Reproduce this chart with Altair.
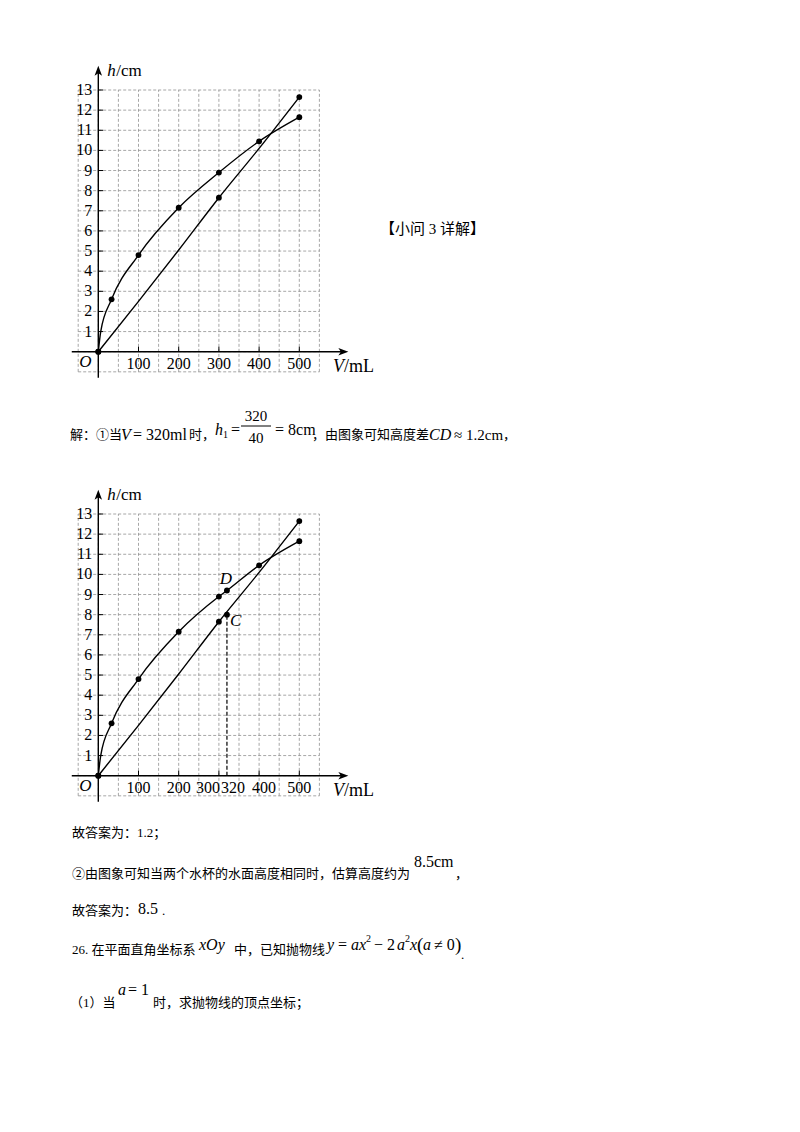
import altair as alt
import pandas as pd

# ---------------- data ----------------
# cup A (curved line): volume V (mL) -> water height h (cm)
curve_V = [0, 6, 33, 100, 200, 300, 400, 500]
curve_h = [0, 1.0, 2.6, 4.8, 7.15, 8.9, 10.45, 11.65]
curve_dot_V = [0, 33, 100, 200, 300, 400, 500]
curve_dot_h = [0, 2.6, 4.8, 7.15, 8.9, 10.45, 11.65]
# cup B (almost straight line)
line_V = [0, 100, 200, 300, 400, 500]
line_h = [0, 2.5, 5.05, 7.65, 10.1, 12.65]
line_dot_V = [0, 300, 500]
line_dot_h = [0, 7.65, 12.65]
# points D (on cup A) and C (on cup B) at V = 320 mL
D_V, D_h = 320, 9.2
C_V, C_h = 320, 8.0

x_ticks_1 = [100, 200, 300, 400, 500]
x_ticks_2 = [100, 200, 300, 400, 500]
x_labels_1 = ["100", "200", "300", "400", "500"]
x_labels_2 = ["100", "200", "300", "320", "400", "500"]
x_label_pos_2 = [100, 200, 300, 320, 400, 500]
y_ticks = [1, 2, 3, 4, 5, 6, 7, 8, 9, 10, 11, 12, 13]
y_labels = ["1", "2", "3", "4", "5", "6", "7", "8", "9", "10", "11", "12", "13"]
grid_V = [-50, 0, 50, 100, 150, 200, 250, 300, 350, 400, 450, 500, 550]
grid_h = [-1, 0, 1, 2, 3, 4, 5, 6, 7, 8, 9, 10, 11, 12, 13]

# ---------------- styling / layout ----------------
SERIF = "Liberation Serif"
MIX = "Liberation Serif, Noto Sans CJK SC"
W = 784
PXV = 0.402     # px per mL
PXH = 20.13     # px per cm
OX = 90.3       # origin x inside a panel
X_AXIS = (-66, 622)
Y_AXIS = (-1.3, 14.2)
ARROW = "M0,-1L0.75,1L0,0.5L-0.75,1Z"

one = pd.DataFrame({"k": [0]})


def T(s, x, y, top, size=13, italic=False, font=MIX, align="left"):
    return alt.Chart(one).mark_text(
        text=s, font=font, fontSize=size,
        fontStyle="italic" if italic else "normal",
        align=align, baseline="middle", color="black"
    ).encode(x=alt.value(x - 8), y=alt.value(y - top))


def panel(height, oy, second, extra=None):
    xs = alt.Scale(domain=[-OX / PXV, (W - OX) / PXV], nice=False, zero=False)
    ys = alt.Scale(domain=[-(height - oy) / PXH, oy / PXH], nice=False, zero=False)

    def X(f):
        return alt.X(f + ":Q", scale=xs, axis=None)

    def Y(f):
        return alt.Y(f + ":Q", scale=ys, axis=None)

    layers = []
    gv = pd.DataFrame({"V": grid_V, "a": [grid_h[0]] * len(grid_V), "b": [grid_h[-1]] * len(grid_V)})
    gh = pd.DataFrame({"h": grid_h, "a": [grid_V[0]] * len(grid_h), "b": [grid_V[-1]] * len(grid_h)})
    gstyle = dict(color="#909090", strokeWidth=0.8, strokeDash=[3, 2])
    layers.append(alt.Chart(gv).mark_rule(**gstyle).encode(x=X("V"), y=Y("a"), y2="b:Q"))
    layers.append(alt.Chart(gh).mark_rule(**gstyle).encode(y=Y("h"), x=X("a"), x2="b:Q"))

    # axes
    ax = pd.DataFrame({"a": [X_AXIS[0]], "b": [X_AXIS[1] - 5 / PXV], "h": [0]})
    ay = pd.DataFrame({"a": [Y_AXIS[0]], "b": [Y_AXIS[1] - 5 / PXH], "V": [0]})
    layers.append(alt.Chart(ax).mark_rule(color="black", strokeWidth=1.4).encode(x=X("a"), x2="b:Q", y=Y("h")))
    layers.append(alt.Chart(ay).mark_rule(color="black", strokeWidth=1.4).encode(y=Y("a"), y2="b:Q", x=X("V")))
    arx = pd.DataFrame({"V": [X_AXIS[1] - 5 / PXV], "h": [0]})
    ary = pd.DataFrame({"V": [0], "h": [Y_AXIS[1] - 5 / PXH]})
    layers.append(alt.Chart(arx).mark_point(shape=ARROW, size=100, filled=True, color="black",
                                            opacity=1, angle=90, strokeWidth=0).encode(x=X("V"), y=Y("h")))
    layers.append(alt.Chart(ary).mark_point(shape=ARROW, size=100, filled=True, color="black",
                                            opacity=1, strokeWidth=0).encode(x=X("V"), y=Y("h")))

    # axis ticks
    xt = x_ticks_2 if second else x_ticks_1
    tx = pd.DataFrame({"V": xt, "a": [0] * len(xt), "b": [0.25] * len(xt)})
    ty = pd.DataFrame({"h": y_ticks, "a": [0] * len(y_ticks), "b": [12] * len(y_ticks)})
    layers.append(alt.Chart(tx).mark_rule(color="black", strokeWidth=1).encode(x=X("V"), y=Y("a"), y2="b:Q"))
    layers.append(alt.Chart(ty).mark_rule(color="black", strokeWidth=1).encode(y=Y("h"), x=X("a"), x2="b:Q"))

    # tick labels
    lab = dict(font=SERIF, fontSize=16, color="black", baseline="middle")
    if not second:
        dfl = pd.DataFrame({"V": x_ticks_1, "h": [0] * 5, "t": x_labels_1})
        layers.append(alt.Chart(dfl).mark_text(dy=12, align="center", **lab).encode(x=X("V"), y=Y("h"), text="t:N"))
    else:
        shifts = {"300": -11, "320": 6, "400": 5}
        for v, t in zip(x_label_pos_2, x_labels_2):
            d = pd.DataFrame({"V": [v], "h": [0], "t": [t]})
            layers.append(alt.Chart(d).mark_text(dy=12, dx=shifts.get(t, 0), align="center", **lab)
                          .encode(x=X("V"), y=Y("h"), text="t:N"))
    dfy = pd.DataFrame({"V": [0] * len(y_ticks), "h": y_ticks, "t": y_labels})
    layers.append(alt.Chart(dfy).mark_text(dx=-6, align="right", **lab).encode(x=X("V"), y=Y("h"), text="t:N"))

    # axis titles and origin
    layers.append(alt.Chart(pd.DataFrame({"V": [0], "h": [0]})).mark_text(
        text="O", font=SERIF, fontSize=17, fontStyle="italic", dx=-13, dy=10, align="center", baseline="middle")
        .encode(x=X("V"), y=Y("h")))
    ht = pd.DataFrame({"V": [0], "h": [13.95]})
    layers.append(alt.Chart(ht).mark_text(text="h", font=SERIF, fontSize=17, fontStyle="italic", dx=9,
                                          align="left", baseline="middle").encode(x=X("V"), y=Y("h")))
    layers.append(alt.Chart(ht).mark_text(text="/cm", font=SERIF, fontSize=17, dx=18,
                                          align="left", baseline="middle").encode(x=X("V"), y=Y("h")))
    vt = pd.DataFrame({"V": [584], "h": [-0.75]})
    layers.append(alt.Chart(vt).mark_text(text="V", font=SERIF, fontSize=18, fontStyle="italic",
                                          align="left", baseline="middle").encode(x=X("V"), y=Y("h")))
    layers.append(alt.Chart(vt).mark_text(text="/mL", font=SERIF, fontSize=18, dx=11,
                                          align="left", baseline="middle").encode(x=X("V"), y=Y("h")))

    # curves
    cV, ch, cdV, cdh = list(curve_V), list(curve_h), list(curve_dot_V), list(curve_dot_h)
    ldV, ldh = list(line_dot_V), list(line_dot_h)
    if second:
        cp = sorted(zip(cV + [D_V], ch + [D_h]))
        cV, ch = [p[0] for p in cp], [p[1] for p in cp]
        cdV, cdh = cdV + [D_V], cdh + [D_h]
        ldV, ldh = ldV + [C_V], ldh + [C_h]
        dash = pd.DataFrame({"V": [C_V], "a": [0], "b": [C_h]})
        layers.append(alt.Chart(dash).mark_rule(color="black", strokeWidth=1.2, strokeDash=[4, 2])
                      .encode(x=X("V"), y=Y("a"), y2="b:Q"))
    lstyle = dict(color="black", strokeWidth=1.4, interpolate="monotone")
    layers.append(alt.Chart(pd.DataFrame({"V": cV, "h": ch})).mark_line(**lstyle).encode(x=X("V"), y=Y("h")))
    layers.append(alt.Chart(pd.DataFrame({"V": line_V, "h": line_h})).mark_line(**lstyle).encode(x=X("V"), y=Y("h")))
    dots = pd.DataFrame({"V": cdV + ldV, "h": cdh + ldh})
    layers.append(alt.Chart(dots).mark_circle(size=34, color="black", opacity=1).encode(x=X("V"), y=Y("h")))

    if second:
        lt = dict(font=SERIF, fontSize=17, fontStyle="italic", baseline="middle", color="black")
        layers.append(alt.Chart(pd.DataFrame({"V": [D_V], "h": [D_h]})).mark_text(
            text="D", dx=-1, dy=-12, align="center", **lt).encode(x=X("V"), y=Y("h")))
        layers.append(alt.Chart(pd.DataFrame({"V": [C_V], "h": [C_h]})).mark_text(
            text="C", dx=3, dy=6, align="left", **lt).encode(x=X("V"), y=Y("h")))

    if extra:
        layers += extra
    return alt.layer(*layers).properties(width=W, height=height)


# ---------------- rows ----------------
rowA = panel(392, 343.7, False, extra=[T("【小问 3 详解】", 380, 229, 8, 15)])

topB = 400
rowB = alt.layer(
    T("解：①当", 70, 435, topB),
    T("V", 121, 435, topB, 16, True, SERIF),
    T("= 320ml", 133, 435, topB, 16, False, SERIF),
    T("时，", 189, 435, topB),
    T("h", 215, 430, topB, 16, True, SERIF),
    T("1", 223, 435, topB, 10, False, SERIF),
    T("=", 231, 430, topB, 16, False, SERIF),
    T("320", 256, 416, topB, 15, False, SERIF, "center"),
    alt.Chart(one).mark_rule(color="black", strokeWidth=1).encode(
        x=alt.value(241 - 8), x2=alt.value(271 - 8), y=alt.value(426 - topB)),
    T("40", 256, 438, topB, 15, False, SERIF, "center"),
    T("= 8cm", 275, 430, topB, 16, False, SERIF),
    T("，由图象可知高度差", 312, 435, topB),
    T("CD", 429, 435, topB, 16, True, SERIF),
    T("≈ 1.2cm", 454, 435, topB, 15, False, SERIF),
    T("，", 503, 435, topB),
).properties(width=W, height=70)

rowC = panel(340, 305.7, True)

topD = 810
rowD = alt.layer(
    T("故答案为：1.2；", 72, 833, topD),
    T("②由图象可知当两个水杯的水面高度相同时，估算高度约为", 72, 874, topD),
    T("8.5cm", 414, 862, topD, 16, False, SERIF),
    T("，", 455, 874, topD),
    T("故答案为：", 72, 911, topD),
    T("8.5", 138, 909, topD, 16, False, SERIF),
    T(".", 162, 911, topD, 13, False, SERIF),
    T("26. 在平面直角坐标系", 72, 950, topD),
    T("xOy", 199, 945, topD, 16, True, SERIF),
    T("中，已知抛物线", 234, 950, topD),
    T("y", 327, 945, topD, 16, True, SERIF),
    T("=", 338, 945, topD, 16, False, SERIF),
    T("ax", 351, 945, topD, 16, True, SERIF),
    T("2", 366, 939, topD, 10, False, SERIF),
    T("− 2", 374, 945, topD, 16, False, SERIF),
    T("a", 397, 945, topD, 16, True, SERIF),
    T("2", 405, 939, topD, 10, False, SERIF),
    T("x", 410, 945, topD, 16, True, SERIF),
    T("(", 417, 945, topD, 19, False, SERIF),
    T("a", 423, 945, topD, 16, True, SERIF),
    T("≠ 0", 434, 945, topD, 16, False, SERIF),
    T(")", 455, 945, topD, 19, False, SERIF),
    T(".", 461, 955, topD, 13, False, SERIF),
    T("（1）当", 70, 1003, topD),
    T("a", 118, 990, topD, 16, True, SERIF),
    T("= 1", 128, 990, topD, 16, False, SERIF),
    T("时，求抛物线的顶点坐标；", 153, 1003, topD),
).properties(width=W, height=314)

chart = alt.vconcat(rowA, rowB, rowC, rowD, spacing=0).properties(padding=0).configure_view(stroke=None)
chart.save("out.html", embed_options={"renderer": "svg", "actions": False})
